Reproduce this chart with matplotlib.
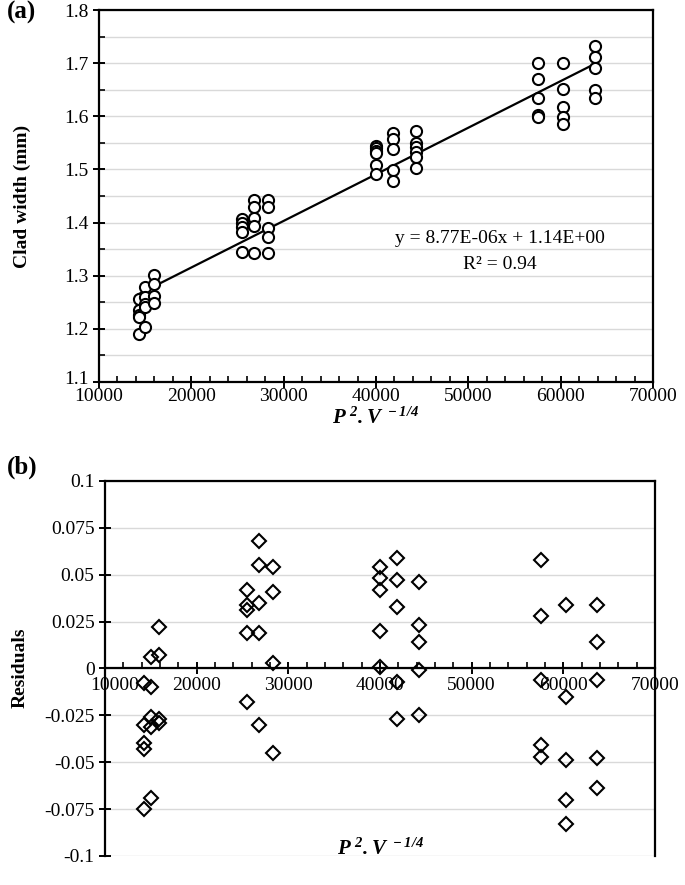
import numpy as np
import matplotlib
matplotlib.use('Agg')
import matplotlib.pyplot as plt
import matplotlib.transforms as mtransforms
from matplotlib.ticker import MultipleLocator, FixedLocator

plt.rcParams['font.family'] = ['Liberation Serif', 'DejaVu Serif']
plt.rcParams['mathtext.fontset'] = 'custom'
plt.rcParams['mathtext.rm'] = 'Liberation Serif:italic:bold'
plt.rcParams['mathtext.it'] = 'Liberation Serif:italic:bold'
plt.rcParams['mathtext.bf'] = 'Liberation Serif:italic:bold'
plt.rcParams['axes.unicode_minus'] = False

# P^2.V^-1/4 of each measurement column
col_x = [14300, 15020, 15940, 25540, 26790, 28310,
         39950, 41850, 44280, 57550, 60240, 63710]

# clad width (mm) per column
clad_w = [
    [1.257, 1.236, 1.226, 1.222, 1.190],
    [1.278, 1.260, 1.246, 1.242, 1.204],
    [1.301, 1.284, 1.262, 1.249],
    [1.406, 1.400, 1.391, 1.383, 1.345],
    [1.442, 1.430, 1.408, 1.394, 1.343],
    [1.442, 1.430, 1.389, 1.373, 1.342],
    [1.545, 1.540, 1.535, 1.530, 1.508, 1.491],
    [1.568, 1.557, 1.538, 1.499, 1.479],
    [1.573, 1.549, 1.543, 1.533, 1.524, 1.502],
    [1.701, 1.671, 1.635, 1.602, 1.598],
    [1.701, 1.651, 1.618, 1.598, 1.585],
    [1.732, 1.711, 1.690, 1.649, 1.634],
]

# residuals per column
resid = [
    [-0.008, -0.030, -0.040, -0.043, -0.075],
    [0.006, -0.010, -0.026, -0.031, -0.069],
    [0.022, 0.007, -0.027, -0.029],
    [0.042, 0.034, 0.031, 0.019, -0.018],
    [0.068, 0.055, 0.035, 0.019, -0.030],
    [0.054, 0.041, 0.003, -0.045],
    [0.054, 0.048, 0.042, 0.020, 0.001],
    [0.059, 0.047, 0.033, -0.007, -0.027],
    [0.046, 0.023, 0.014, -0.001, -0.025],
    [0.058, 0.028, -0.006, -0.041, -0.047],
    [0.034, -0.015, -0.049, -0.070, -0.083],
    [0.034, 0.014, -0.006, -0.048, -0.064],
]

slope = 8.77e-06
intercept = 1.14

x_ticks = [10000, 20000, 30000, 40000, 50000, 60000, 70000]
y1_ticks = [1.1, 1.2, 1.3, 1.4, 1.5, 1.6, 1.7, 1.8]
y2_ticks = [-0.1, -0.075, -0.05, -0.025, 0, 0.025, 0.05, 0.075, 0.1]
y2_labels = ['-0.1', '-0.075', '-0.05', '-0.025', '0', '0.025', '0.05', '0.075', '0.1']

xa = np.concatenate([[x] * len(v) for x, v in zip(col_x, clad_w)])
ya = np.concatenate(clad_w)
xr = np.concatenate([[x] * len(v) for x, v in zip(col_x, resid)])
yr = np.concatenate(resid)

fig = plt.figure(figsize=(6.85, 8.85), dpi=100)
ax1 = fig.add_axes([0.1445, 0.5684, 0.8088, 0.4203])
ax2 = fig.add_axes([0.1533, 0.0328, 0.8029, 0.4237])

grid_c = '#d9d9d9'
fs = 14

# ---- (a)
ax1.set_xlim(10000, 70000)
ax1.set_ylim(1.1, 1.8)
ax1.set_xticks(x_ticks)
ax1.set_yticks(y1_ticks)
ax1.set_yticklabels(['%.1f' % v for v in y1_ticks])
ax1.xaxis.set_minor_locator(MultipleLocator(2000))
ax1.yaxis.set_minor_locator(MultipleLocator(0.05))
ax1.grid(True, which='both', axis='y', color=grid_c, lw=1.0)
ax1.set_axisbelow(True)
for s in ax1.spines.values():
    s.set_linewidth(1.6)
ax1.tick_params(which='major', direction='inout', length=8, width=1.4, labelsize=fs)
ax1.tick_params(which='minor', direction='in', length=4, width=1.2)
ax1.tick_params(axis='x', which='major', pad=0)
ax1.tick_params(axis='x', which='both', top=False)
ax1.tick_params(axis='y', which='both', right=False)

# lowest y label nudged up a little, clear of the 10000 label
ylab0 = ax1.get_yticklabels()[0]
ylab0.set_transform(ylab0.get_transform() +
                    mtransforms.ScaledTranslation(0, 4 / 100, fig.dpi_scale_trans))

xl = np.array([min(col_x), max(col_x)])
ax1.plot(xl, slope * xl + intercept, color='black', lw=1.6, zorder=2)
ax1.plot(xa, ya, 'o', ms=8, mfc='white', mec='black', mew=1.5, zorder=3)
ax1.text(0.724, 0.387, 'y = 8.77E-06x + 1.14E+00', transform=ax1.transAxes,
         ha='center', va='center', fontsize=fs)
ax1.text(0.724, 0.315, 'R² = 0.94', transform=ax1.transAxes,
         ha='center', va='center', fontsize=fs)

# ---- (b)
ax2.set_xlim(10000, 70000)
ax2.set_ylim(-0.1, 0.1)
ax2.set_xticks(x_ticks)
ax2.xaxis.set_minor_locator(MultipleLocator(2000))
ax2.yaxis.set_major_locator(FixedLocator(y2_ticks))
ax2.set_yticklabels(y2_labels)
ax2.grid(True, which='major', axis='y', color=grid_c, lw=1.0)
ax2.set_axisbelow(True)
ax2.spines['bottom'].set_position(('data', 0))
for s in ax2.spines.values():
    s.set_linewidth(1.6)
ax2.tick_params(which='major', direction='inout', length=8, width=1.4, labelsize=fs)
ax2.tick_params(which='minor', direction='in', length=4, width=1.2)
ax2.tick_params(axis='x', which='major', pad=2)
ax2.tick_params(axis='x', which='both', top=False)
ax2.tick_params(axis='y', which='both', right=False)
ax2.plot(xr, yr, 'D', ms=7, mfc='none', mec='black', mew=1.5, zorder=3)

# first x label of (b) sits right of the y axis
lab0 = ax2.get_xticklabels()[0]
lab0.set_transform(lab0.get_transform() +
                   mtransforms.ScaledTranslation(10 / 100, 0, fig.dpi_scale_trans))

# labels
fig.text(0.548, 0.528, r'$P^{\ 2}.V^{\ -1/4}$', ha='center', va='center', fontsize=15)
fig.text(0.555, 0.040, r'$P^{\ 2}.V^{\ -1/4}$', ha='center', va='center', fontsize=15)
fig.text(0.032, 0.778, 'Clad width (mm)', rotation=90, ha='center', va='center',
         fontsize=fs, fontweight='bold')
fig.text(0.030, 0.245, 'Residuals', rotation=90, ha='center', va='center',
         fontsize=fs, fontweight='bold')
fig.text(0.032, 0.986, '(a)', ha='center', va='center', fontsize=18, fontweight='bold')
fig.text(0.032, 0.472, '(b)', ha='center', va='center', fontsize=18, fontweight='bold')

fig.savefig('out.png', dpi=100)
